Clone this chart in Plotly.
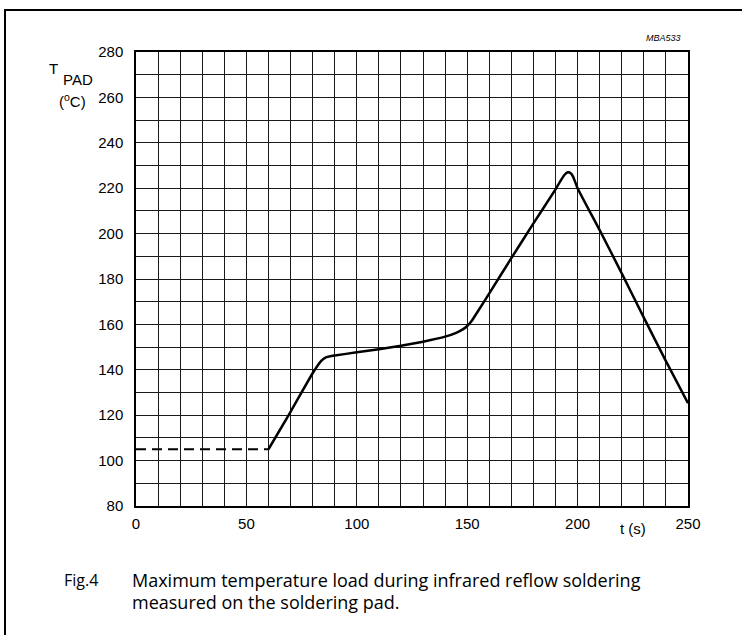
import plotly.graph_objects as go

# ---- data ----
t_dashed = [0, 60]
T_dashed = [105, 105]

t_solid = [60, 70, 80, 84, 86, 88, 90, 100, 110, 120, 130, 140, 145, 148, 150, 152, 155,
           160, 170, 180, 190, 192, 194, 195.5, 197, 198, 200, 210, 220, 230, 240, 250]
T_solid = [105, 121.5, 138.5, 144, 145.5, 146, 146.3, 147.7, 149.1, 150.6, 152.4, 154.6, 156.3,
           157.8, 159.3, 161.5, 166, 173.7, 189.2, 204.5, 219.5, 222.8, 225.8, 227, 226.5, 225,
           220, 201.5, 182.5, 163, 143.8, 125.3]

x_tick_vals = [0, 50, 100, 150, 200, 250]
y_tick_vals = [80, 100, 120, 140, 160, 180, 200, 220, 240, 260, 280]

# ---- layout geometry (pixels) ----
FIG_W, FIG_H = 742, 635
L, R, TOP, BOT = 136, 688, 52, 506


def px(x):
    return (x - L) / (R - L)


def py(y):
    return (BOT - y) / (BOT - TOP)


FONT = "Liberation Sans, Arial, sans-serif"
CAP_FONT = "Open Sans, sans-serif"
GRID = "#1a1a1a"

fig = go.Figure()
fig.add_trace(go.Scatter(x=t_dashed, y=T_dashed, mode="lines",
                         line=dict(color="black", width=2, dash="10px,6px"),
                         hoverinfo="skip", showlegend=False))
fig.add_trace(go.Scatter(x=t_solid, y=T_solid, mode="lines",
                         line=dict(color="black", width=2.5, shape="spline", smoothing=0.5),
                         hoverinfo="skip", showlegend=False))

fig.update_layout(
    width=FIG_W, height=FIG_H,
    margin=dict(l=L, r=FIG_W - R, t=TOP, b=FIG_H - BOT, pad=0),
    paper_bgcolor="white", plot_bgcolor="white",
    font=dict(family=FONT, color="black", size=15),
    showlegend=False,
)
fig.update_xaxes(range=[0, 250], tickvals=x_tick_vals, ticks="", showgrid=True,
                 gridcolor=GRID, gridwidth=1, zeroline=False,
                 minor=dict(dtick=10, showgrid=True, gridcolor=GRID, gridwidth=1, ticks=""),
                 showline=True, linecolor="black", linewidth=1.5, mirror=True,
                 tickfont=dict(size=15, family=FONT, color="black"),
                 ticklabelstandoff=3)
fig.update_yaxes(range=[80, 280], tickvals=y_tick_vals, ticks="", showgrid=True,
                 gridcolor=GRID, gridwidth=1, zeroline=False,
                 minor=dict(dtick=10, showgrid=True, gridcolor=GRID, gridwidth=1, ticks=""),
                 showline=True, linecolor="black", linewidth=1.5, mirror=True,
                 tickfont=dict(size=15, family=FONT, color="black"),
                 ticklabelstandoff=8)

ann = []


def add(text, x, y, size=14, xanchor="center", yanchor="middle", family=FONT):
    ann.append(dict(text=text, x=px(x), y=py(y), xref="paper", yref="paper",
                    showarrow=False, xanchor=xanchor, yanchor=yanchor,
                    font=dict(size=size, family=family, color="black"), align="left"))


add("T", 53.5, 68, 15)
add("PAD", 78, 79, 15)
add("(<sup>o</sup>C)", 72, 100, 15)
add("t (s)", 633, 528, 15)
add("<i>MBA533</i>", 683, 38.5, 9, xanchor="right")
add("Fig.4", 62, 580, 16, xanchor="left", family=CAP_FONT)
add("Maximum temperature load during infrared reflow soldering", 130, 580, 18,
    xanchor="left", family=CAP_FONT)
add("measured on the soldering pad.", 130, 602, 18, xanchor="left", family=CAP_FONT)
fig.update_layout(annotations=ann)

fig.add_shape(type="rect", xref="paper", yref="paper",
              x0=px(5), x1=px(780), y0=py(680), y1=py(10),
              line=dict(color="black", width=2), fillcolor="rgba(0,0,0,0)")

fig.write_html("out.html")
